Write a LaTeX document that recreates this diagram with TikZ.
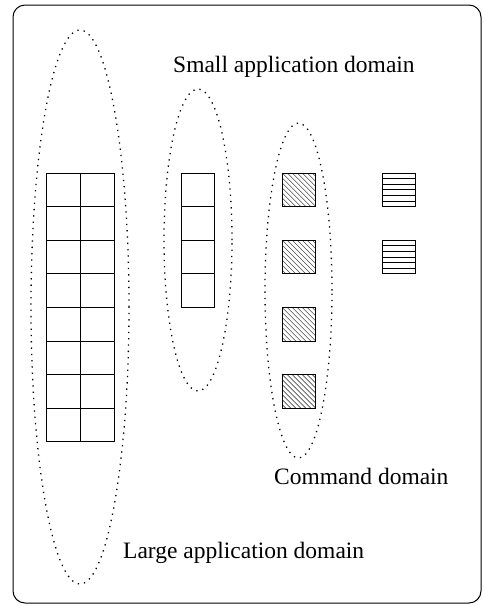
\documentclass[tikz,border=0pt]{standalone}
\usepackage{fontspec}
\setmainfont{Liberation Serif}
\usetikzlibrary{shapes.geometric}

\tikzset{
  cell/.style={draw, line width=1pt, minimum width=33.6pt, minimum height=33.6pt, inner sep=0pt, outer sep=0pt},
  hatched/.style={cell, path picture={
      \foreach \k in {-8,...,8}
        \draw[black!70, line width=0.6pt]
          ([xshift=\k*5pt]path picture bounding box.north west) -- ++(45pt,-45pt);
    }},
  striped/.style={cell, path picture={
      \foreach \k in {1,...,5}
        \draw[line width=1pt]
          ([yshift=-\k*5.6pt]path picture bounding box.north west) --
          ([yshift=-\k*5.6pt]path picture bounding box.north east);
    }},
  domainring/.style={ellipse, draw, line width=1.3pt, dash pattern=on 1.3pt off 5pt, inner sep=0pt},
  caption/.style={font=\fontsize{23.5}{26}\selectfont, inner sep=0pt, anchor=base west},
}

\begin{document}
\begin{tikzpicture}[x=1pt, y=-1pt]
  \useasboundingbox (0,0) rectangle (483,606);

  % outer frame
  \node[draw, line width=1pt, rounded corners=12pt, minimum width=468pt, minimum height=598pt, inner sep=0pt] (frame) at (247,304) {};

  % domains
  \node[domainring, minimum width=98pt, minimum height=554pt] (large) at (80,307) {};
  \node[domainring, minimum width=68pt, minimum height=302pt] (small) at (198,240) {};
  \node[domainring, minimum width=67pt, minimum height=335pt] (command) at (298.5,290.5) {};

  % large application: 2 x 8 grid
  \foreach \r in {0,...,7} {
    \node[cell] (L\r a) at (63.7,189.8+33.6*\r) {};
    \node[cell] (L\r b) at (97.3,189.8+33.6*\r) {};
  }

  % small application: 1 x 4 column
  \foreach \r in {0,...,3}
    \node[cell] (S\r) at (198,189.8+33.6*\r) {};

  % command squares
  \foreach \r in {0,...,3}
    \node[hatched] (C\r) at (299,189.8+67.2*\r) {};

  % striped squares
  \foreach \r in {0,1}
    \node[striped] (H\r) at (399,189.8+67.2*\r) {};

  % labels
  \node[caption] (smalllabel) at (173,72) {Small application domain};
  \node[caption] (commandlabel) at (274,484) {Command domain};
  \node[caption] (largelabel) at (123,558) {Large application domain};
\end{tikzpicture}
\end{document}
